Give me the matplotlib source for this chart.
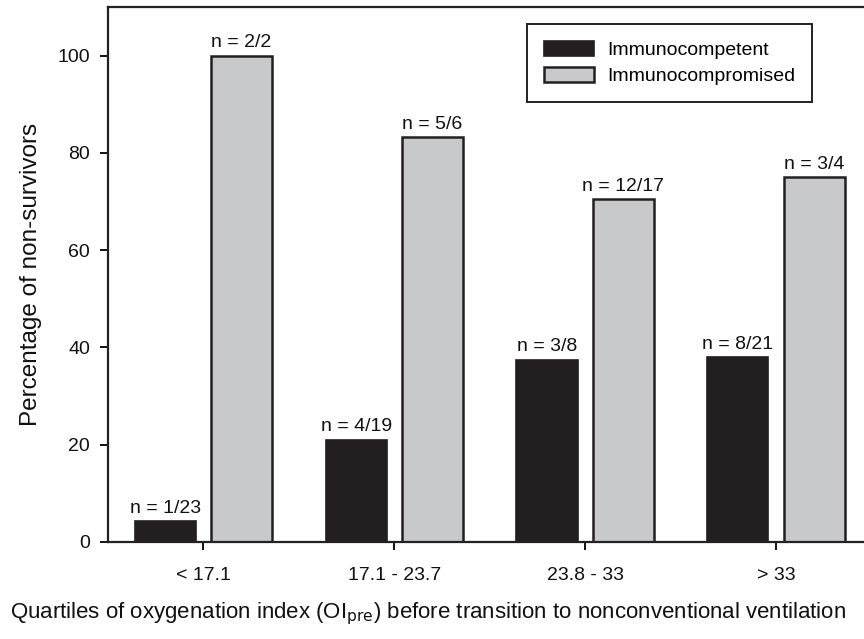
import matplotlib
matplotlib.use("Agg")
import matplotlib.pyplot as plt
import numpy as np

plt.rcParams['font.family'] = ['Liberation Sans', 'DejaVu Sans']

categories = ["< 17.1", "17.1 - 23.7", "23.8 - 33", "> 33"]
competent = [100 * 1 / 23, 100 * 4 / 19, 100 * 3 / 8, 100 * 8 / 21]
compromised = [100 * 2 / 2, 100 * 5 / 6, 100 * 12 / 17, 100 * 3 / 4]
competent_labels = ["n = 1/23", "n = 4/19", "n = 3/8", "n = 8/21"]
compromised_labels = ["n = 2/2", "n = 5/6", "n = 12/17", "n = 3/4"]
yticks = [0, 20, 40, 60, 80, 100]

W, H = 864, 639
fig = plt.figure(figsize=(W / 100, H / 100), dpi=100)
ax = fig.add_axes([108 / W, 1 - 542 / H, (871.5 - 108) / W, (542 - 7) / H])

x = np.arange(len(categories))
off = 0.2
bw = 0.32
dark = "#231f20"
grey = "#c8c9cb"
small = 14
ax.bar(x - off, competent, bw, color=dark, edgecolor=dark, linewidth=1.2,
       label="Immunocompetent")
ax.bar(x + off, compromised, bw, color=grey, edgecolor=dark, linewidth=1.8,
       label="Immunocompromised")

for xi, v, t in zip(x - off, competent, competent_labels):
    ax.annotate(t, (xi, v), xytext=(0, 3), textcoords="offset points",
                ha="center", va="bottom", fontsize=small, color="#111111")
for xi, v, t in zip(x + off, compromised, compromised_labels):
    ax.annotate(t, (xi, v), xytext=(0, 3), textcoords="offset points",
                ha="center", va="bottom", fontsize=small, color="#111111")

ax.set_xlim(-0.5, 3.5)
ax.set_ylim(0, 110)
ax.set_yticks(yticks)
ax.set_xticks(x)
ax.set_xticklabels(categories)
ax.tick_params(axis="y", direction="out", length=6, width=1.4, pad=7,
               labelsize=small, colors="#111111")
ax.tick_params(axis="x", direction="out", length=6, width=1.4, pad=12,
               labelsize=small, colors="#111111")
for s in ax.spines.values():
    s.set_linewidth(1.6)
    s.set_color("#222222")

ax.set_ylabel("Percentage of non-survivors", fontsize=17.5, labelpad=11,
              color="#111111")

fig.text(10 / W, 1 - 614 / H,
         r"Quartiles of oxygenation index (OI$_{\mathrm{pre}}$) before transition to nonconventional ventilation",
         ha="left", va="center", fontsize=16, color="#111111")

leg = ax.legend(loc="upper left", bbox_to_anchor=(527 / W, 1 - 24 / H),
                bbox_transform=fig.transFigure, borderaxespad=0,
                fancybox=False, framealpha=1, edgecolor="#222222",
                fontsize=small, handlelength=2.6, handleheight=0.85,
                labelspacing=0.4, borderpad=0.85, handletextpad=0.7)
leg.get_frame().set_linewidth(1.4)

fig.savefig("out.png", dpi=100)
